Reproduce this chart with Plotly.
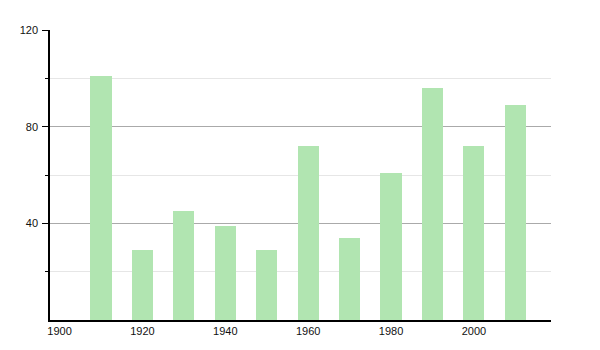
import plotly.graph_objects as go

years = [1910, 1920, 1930, 1940, 1950, 1960, 1970, 1980, 1990, 2000, 2010]
values = [101, 29, 45, 39, 29, 72, 34, 61, 96, 72, 89]
x_ticks = [1900, 1920, 1940, 1960, 1980, 2000]
y_ticks = [40, 80, 120]
y_minor = [20, 60, 100]

fig = go.Figure(go.Bar(
    x=years, y=values, width=5.1,
    marker=dict(color="#b1e5b1", line=dict(width=0)),
    hoverinfo="x+y",
))

fig.update_layout(
    width=600, height=350,
    margin=dict(l=50, r=49, t=30, b=30),
    plot_bgcolor="white", paper_bgcolor="white",
    font=dict(family="Liberation Sans, Arial, sans-serif", size=11, color="#111"),
    showlegend=False,
    bargap=0,
)
fig.update_xaxes(
    range=[1897.7, 2018.6],
    tickvals=x_ticks, ticktext=[str(v) for v in x_ticks],
    showgrid=False, zeroline=False,
    showline=True, linecolor="black", linewidth=1.5,
    ticks="", ticklabelstandoff=0,
)
fig.update_yaxes(
    range=[0, 120],
    tickvals=y_ticks, ticktext=[str(v) for v in y_ticks],
    showgrid=True, gridcolor="#aaaaaa", gridwidth=1,
    zeroline=False,
    showline=True, linecolor="black", linewidth=1.5,
    ticks="outside", ticklen=6, tickcolor="black", tickwidth=1,
    minor=dict(tickvals=y_minor, ticks="outside", ticklen=3, tickcolor="black",
               showgrid=True, gridcolor="#e6e6e6", gridwidth=1),
    ticklabelstandoff=2,
)

fig.write_html("out.html")
